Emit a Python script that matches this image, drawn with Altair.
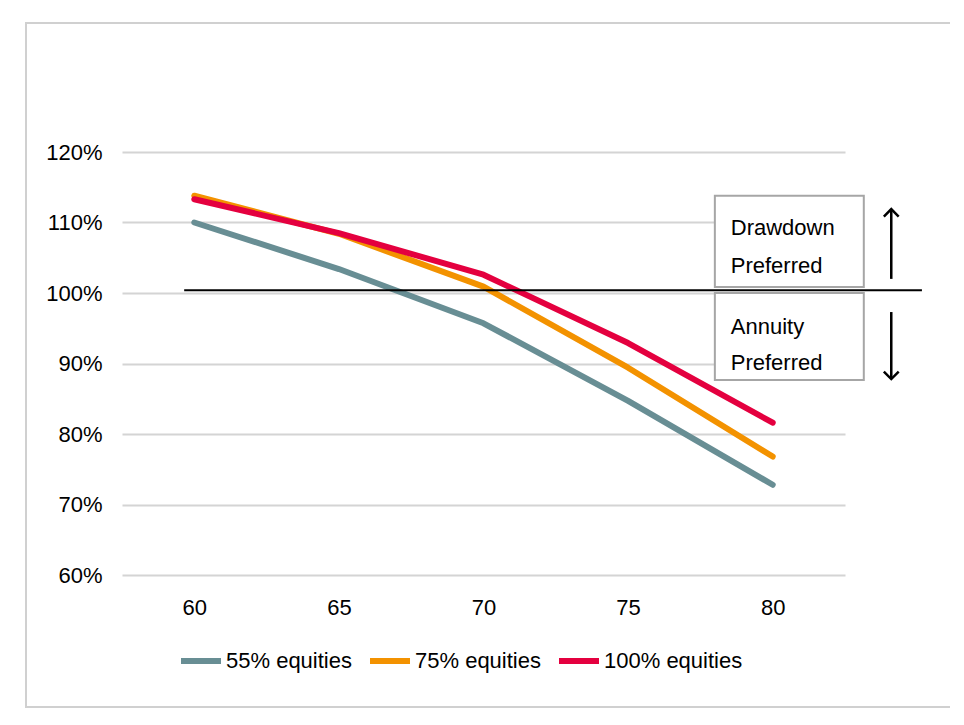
import altair as alt
import pandas as pd

ages = [60, 65, 70, 75, 80]
series_names = ["55% equities", "75% equities", "100% equities"]
eq55 = [110.0, 103.4, 95.7, 84.7, 72.8]
eq75 = [113.8, 108.4, 100.9, 89.4, 76.8]
eq100 = [113.3, 108.5, 102.6, 92.9, 81.6]
colors = ["#688E94", "#F39200", "#E4003F"]
y_ticks = [60, 70, 80, 90, 100, 110, 120]
threshold = 100.4

FONT = "Liberation Sans, Arial"
FS = 22

rows = []
for name, vals in zip(series_names, [eq55, eq75, eq100]):
    for a, v in zip(ages, vals):
        rows.append({"age": a, "value": v, "series": name})
df = pd.DataFrame(rows)

xscale = alt.Scale(domain=[57.5, 82.5], nice=False, zero=False)
yscale = alt.Scale(domain=[60, 120], nice=False, zero=False)

lines = alt.Chart(df).mark_line(strokeWidth=6, strokeCap="round", strokeJoin="round").encode(
    x=alt.X("age:Q", scale=xscale,
            axis=alt.Axis(values=ages, title=None, grid=False, domain=False, ticks=False,
                          labelPadding=22, labelFontSize=FS, labelFont=FONT, labelColor="#000000")),
    y=alt.Y("value:Q", scale=yscale,
            axis=alt.Axis(values=y_ticks, format=".0f", labelExpr="datum.value + '%'", title=None,
                          domain=False, ticks=False, labelPadding=20, labelFontSize=FS,
                          labelFont=FONT, labelColor="#000000", gridColor="#D4D4D4", gridWidth=2)),
    color=alt.Color("series:N", scale=alt.Scale(domain=series_names, range=colors),
                    legend=alt.Legend(title=None, orient="none", legendX=56, legendY=486,
                                      direction="horizontal", symbolType="stroke",
                                      symbolStrokeWidth=6, symbolSize=1600, labelFontSize=22,
                                      labelFont=FONT, labelColor="#000000", labelOffset=2,
                                      columnPadding=6, symbolOffset=0)),
    order="age:Q",
)

# threshold line
thr = pd.DataFrame({"x": [59.65], "x2": [85.16], "y": [threshold]})
thr_rule = alt.Chart(thr).mark_rule(color="#000000", strokeWidth=2).encode(
    x="x:Q", x2="x2:Q", y="y:Q")

# annotation boxes
boxes = pd.DataFrame({
    "x": [78.0, 78.0], "x2": [83.15, 83.15],
    "y": [113.8, 100.0], "y2": [100.85, 87.65],
})
box_marks = alt.Chart(boxes).mark_rect(fill="#FFFFFF", stroke="#A6A6A6", strokeWidth=2).encode(
    x="x:Q", x2="x2:Q", y="y:Q", y2="y2:Q")

labels = pd.DataFrame({
    "x": [78.55, 78.55, 78.55, 78.55],
    "y": [109.2, 103.8, 95.2, 90.1],
    "text": ["Drawdown", "Preferred", "Annuity", "Preferred"],
})
label_marks = alt.Chart(labels).mark_text(align="left", baseline="middle", fontSize=FS,
                                           font=FONT, color="#000000").encode(
    x="x:Q", y="y:Q", text="text:N")

# arrows
shafts = pd.DataFrame({"x": [84.1, 84.1], "y": [111.8, 97.3], "y2": [102.0, 87.9]})
shaft_marks = alt.Chart(shafts).mark_rule(color="#000000", strokeWidth=2.5).encode(
    x="x:Q", y="y:Q", y2="y2:Q")
heads = pd.DataFrame({"x": [84.1, 84.1], "y": [111.9, 87.8], "dir": ["up", "down"]})
head_up = alt.Chart(heads[heads["dir"] == "up"]).mark_point(
    shape="M-1,1L0,0L1,1", size=220, filled=False, stroke="#000000", strokeWidth=2.5,
    opacity=1).encode(x="x:Q", y="y:Q")
head_down = alt.Chart(heads[heads["dir"] == "down"]).mark_point(
    shape="M-1,-1L0,0L1,-1", size=220, filled=False, stroke="#000000", strokeWidth=2.5,
    opacity=1).encode(x="x:Q", y="y:Q")

# outer frame (decoration)
frame = alt.Chart(pd.DataFrame({"a": [0]})).mark_rect(
    fill=None, stroke="#D0D0D0", strokeWidth=2).encode(
    x=alt.value(-96), x2=alt.value(830), y=alt.value(-129), y2=alt.value(555))

chart = alt.layer(frame, lines, thr_rule, box_marks, label_marks, shaft_marks, head_up, head_down).properties(
    width=723, height=423,
    padding={"left": 114, "top": 144, "right": 105, "bottom": 135},
    autosize=alt.AutoSizeParams(type="none"),
    background="#FFFFFF",
).configure_view(stroke=None)

chart.save("out.html", embed_options={"renderer": "svg", "actions": False})
